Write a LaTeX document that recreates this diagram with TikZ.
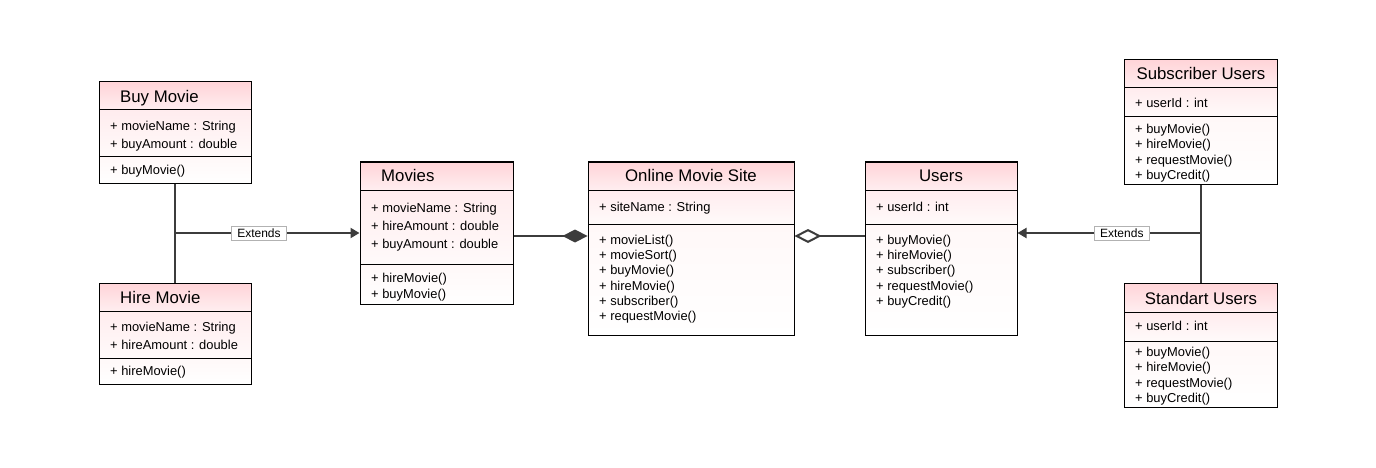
\documentclass[tikz,border=0pt]{standalone}
\usepackage{fontspec}
\setmainfont{Liberation Sans}
\usetikzlibrary{arrows.meta,fit}
\definecolor{headtop}{RGB}{255,212,216}
\definecolor{headbot}{RGB}{255,238,240}
\definecolor{attrtop}{RGB}{255,236,238}
\definecolor{attrbot}{RGB}{255,250,250}
\definecolor{bodytop}{RGB}{255,248,248}
\definecolor{conn}{RGB}{60,60,60}
\tikzset{
  boxline/.style={draw=black,line width=1pt},
  classbox/.style={boxline,inner sep=0pt},
  ctitle/.style={font=\fontsize{16.8}{20}\selectfont,inner sep=0pt,text height=12pt,text depth=0pt},
  citem/.style={font=\fontsize{12.9}{15}\selectfont,inner sep=0pt,text height=9.2pt,text depth=0pt,anchor=west},
  conline/.style={draw=conn,line width=2pt},
  genarrow/.style={conline,-{Triangle[length=9pt,width=10pt]}},
  compose/.style={conline,-{Diamond[length=25pt,width=13pt]}},
  aggreg/.style={conline,-{Diamond[open,length=27pt,width=14pt,fill=white]}},
  extlabel/.style={draw=gray!60,fill=white,line width=0.6pt,font=\fontsize{12}{14}\selectfont,inner xsep=6pt,inner ysep=2.5pt,text height=8.6pt,text depth=0pt}
}
\newcommand{\umlbox}[7]{%
  \shade[top color=headtop,bottom color=headbot] (#2,#3) rectangle (#4,#5);
  \shade[top color=attrtop,bottom color=attrbot] (#2,#5) rectangle (#4,#6);
  \shade[top color=bodytop,bottom color=white] (#2,#6) rectangle (#4,#7);
  \draw[boxline] (#2,#5) -- (#4,#5) (#2,#6) -- (#4,#6);
  \node[classbox,fit={(#2,#3) (#4,#7)}] (#1) {};
}
\begin{document}
\begin{tikzpicture}[x=1pt,y=-1pt]
\fill[white] (0,0) rectangle (1376,468);
\useasboundingbox (0,0) rectangle (1376,468);

% Buy Movie
\umlbox{buy}{99}{82}{251}{110}{157}{183}
\node[ctitle,anchor=west] (buy-t) at (120,97) {Buy Movie};
\node[citem] (buy-a1) at (110,126) {+ movieName : String};
\node[citem] (buy-a2) at (110,144) {+ buyAmount : double};
\node[citem] (buy-m1) at (110,170) {+ buyMovie()};

% Hire Movie
\umlbox{hire}{99}{283}{251}{311}{358}{384}
\node[ctitle,anchor=west] (hire-t) at (120,297) {Hire Movie};
\node[citem] (hire-a1) at (110,327) {+ movieName : String};
\node[citem] (hire-a2) at (110,345) {+ hireAmount : double};
\node[citem] (hire-m1) at (110,371) {+ hireMovie()};

% Movies
\umlbox{movies}{360}{162}{513}{190}{264}{304}
\node[ctitle,anchor=west] (movies-t) at (381,176) {Movies};
\node[citem] (movies-a1) at (371,208) {+ movieName : String};
\node[citem] (movies-a2) at (371,226) {+ hireAmount : double};
\node[citem] (movies-a3) at (371,244) {+ buyAmount : double};
\node[citem] (movies-m1) at (371,278) {+ hireMovie()};
\node[citem] (movies-m2) at (371,294) {+ buyMovie()};

% Online Movie Site
\umlbox{online}{588}{162}{794}{190}{224}{335}
\node[ctitle] (online-t) at (691,176) {Online Movie Site};
\node[citem] (online-a1) at (599,207) {+ siteName : String};
\node[citem] (online-m1) at (599,240) {+ movieList()};
\node[citem] (online-m2) at (599,255) {+ movieSort()};
\node[citem] (online-m3) at (599,270) {+ buyMovie()};
\node[citem] (online-m4) at (599,286) {+ hireMovie()};
\node[citem] (online-m5) at (599,301) {+ subscriber()};
\node[citem] (online-m6) at (599,316) {+ requestMovie()};

% Users
\umlbox{users}{865}{162}{1017}{190}{224}{335}
\node[ctitle] (users-t) at (941,176) {Users};
\node[citem] (users-a1) at (876,207) {+ userId : int};
\node[citem] (users-m1) at (876,240) {+ buyMovie()};
\node[citem] (users-m2) at (876,255) {+ hireMovie()};
\node[citem] (users-m3) at (876,270) {+ subscriber()};
\node[citem] (users-m4) at (876,286) {+ requestMovie()};
\node[citem] (users-m5) at (876,301) {+ buyCredit()};

% Subscriber Users
\umlbox{sub}{1124}{60}{1277}{88}{117}{184}
\node[ctitle] (sub-t) at (1201,74) {Subscriber Users};
\node[citem] (sub-a1) at (1135,103) {+ userId : int};
\node[citem] (sub-m1) at (1135,129) {+ buyMovie()};
\node[citem] (sub-m2) at (1135,144) {+ hireMovie()};
\node[citem] (sub-m3) at (1135,160) {+ requestMovie()};
\node[citem] (sub-m4) at (1135,175) {+ buyCredit()};

% Standart Users
\umlbox{std}{1124}{283}{1277}{312}{341}{407}
\node[ctitle] (std-t) at (1201,298) {Standart Users};
\node[citem] (std-a1) at (1135,326) {+ userId : int};
\node[citem] (std-m1) at (1135,352) {+ buyMovie()};
\node[citem] (std-m2) at (1135,367) {+ hireMovie()};
\node[citem] (std-m3) at (1135,383) {+ requestMovie()};
\node[citem] (std-m4) at (1135,398) {+ buyCredit()};

% Connectors left
\coordinate (jl) at (175,233);
\draw[conline] (buy.south) -- (hire.north);
\draw[genarrow] (jl) -- node[extlabel,pos=0.455] (extl) {Extends} (movies.west |- jl);

% Composition
\coordinate (cy) at (0,236);
\draw[compose] (movies.east |- cy) -- (online.west |- cy);
% Aggregation
\draw[aggreg] (users.west |- cy) -- (online.east |- cy);

% Connectors right
\coordinate (jr) at (1200.5,233);
\draw[conline] (sub.south) -- (std.north);
\draw[genarrow] (jr) -- node[extlabel,pos=0.43] (extr) {Extends} (users.east |- jr);
\end{tikzpicture}
\end{document}
